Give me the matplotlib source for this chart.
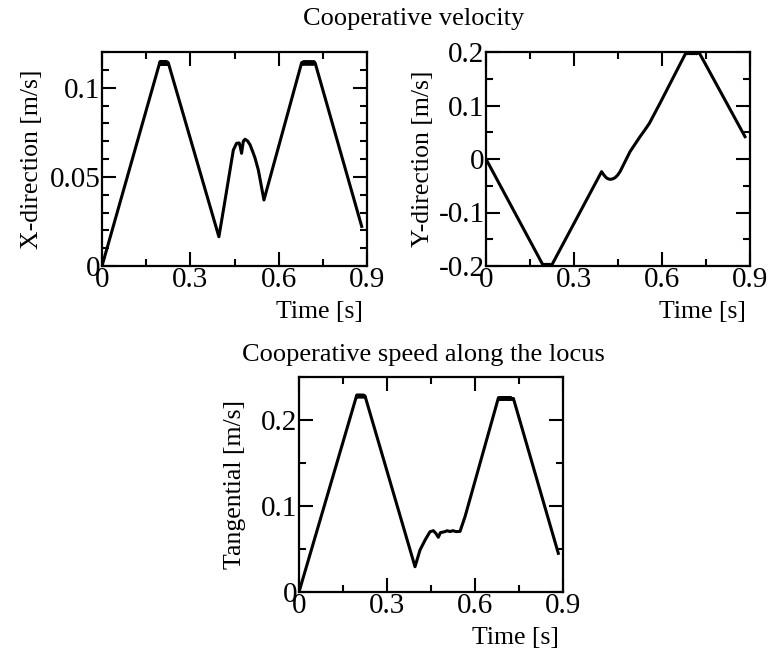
import matplotlib
matplotlib.use("Agg")
import matplotlib.pyplot as plt
from matplotlib.ticker import FixedLocator

plt.rcParams["font.family"] = ["Liberation Serif", "DejaVu Serif"]

# ---- data -------------------------------------------------------------
# X-direction cooperative velocity [m/s]
t_x = [0.0, 0.197, 0.199, 0.201, 0.203, 0.205, 0.207, 0.209, 0.211, 0.213,
       0.215, 0.217, 0.219, 0.221, 0.223, 0.225,
       0.397, 0.414, 0.435, 0.446, 0.457, 0.466, 0.470, 0.474, 0.480,
       0.486, 0.495, 0.503, 0.514, 0.520, 0.531, 0.550,
       0.678, 0.681, 0.684, 0.687, 0.690, 0.693, 0.696, 0.699, 0.702,
       0.705, 0.708, 0.711, 0.714, 0.717, 0.720, 0.724,
       0.882]
v_x = [0.0, 0.1146, 0.1132, 0.1146, 0.1131, 0.1146, 0.1132, 0.1146, 0.1131, 0.1146,
       0.1132, 0.1146, 0.1131, 0.1145, 0.1133, 0.1140,
       0.0164, 0.0330, 0.0540, 0.0650, 0.0688, 0.0690, 0.0665, 0.0632, 0.0700,
       0.0711, 0.0700, 0.0679, 0.0632, 0.0604, 0.0538, 0.0370,
       0.1140, 0.1131, 0.1146, 0.1131, 0.1146, 0.1131, 0.1146, 0.1131, 0.1146,
       0.1131, 0.1146, 0.1131, 0.1146, 0.1131, 0.1146, 0.1138,
       0.0222]

# Y-direction cooperative velocity [m/s]
t_y = [0.0, 0.195, 0.198, 0.201, 0.204, 0.207, 0.210, 0.213, 0.216, 0.219, 0.224,
       0.394, 0.402, 0.410, 0.416, 0.423, 0.430, 0.440, 0.449, 0.457,
       0.491, 0.525, 0.540, 0.557, 0.593,
       0.682, 0.686, 0.690, 0.694, 0.698, 0.702, 0.706, 0.710, 0.714,
       0.718, 0.722, 0.727,
       0.883]
v_y = [0.0, -0.1990, -0.1968, -0.1990, -0.1968, -0.1990, -0.1968, -0.1990, -0.1968,
       -0.1990, -0.1985,
       -0.0237, -0.0300, -0.0350, -0.0370, -0.0380, -0.0375, -0.0350, -0.0300, -0.0237,
       0.0137, 0.0417, 0.0530, 0.0667, 0.1040,
       0.1990, 0.1968, 0.1990, 0.1968, 0.1990, 0.1968, 0.1990, 0.1968, 0.1990,
       0.1968, 0.1990, 0.1985,
       0.0417]

# Tangential cooperative speed [m/s]
t_t = [0.0, 0.197, 0.199, 0.201, 0.203, 0.205, 0.207, 0.209, 0.211, 0.213,
       0.215, 0.217, 0.219, 0.221, 0.223, 0.225,
       0.3955, 0.4125, 0.430, 0.4466, 0.458, 0.467, 0.475, 0.482,
       0.4966, 0.505, 0.515, 0.525, 0.535, 0.549, 0.566,
       0.680, 0.683, 0.686, 0.689, 0.692, 0.695, 0.698, 0.701, 0.704,
       0.707, 0.710, 0.713, 0.716, 0.719, 0.722, 0.725, 0.731,
       0.884]
v_t = [0.0, 0.2290, 0.2268, 0.2290, 0.2267, 0.2290, 0.2268, 0.2290, 0.2267, 0.2290,
       0.2268, 0.2290, 0.2267, 0.2289, 0.2268, 0.2280,
       0.0294, 0.0488, 0.0605, 0.0701, 0.0713, 0.0680, 0.0636, 0.0690,
       0.0701, 0.0712, 0.0703, 0.0713, 0.0702, 0.0705, 0.0876,
       0.2260, 0.2239, 0.2262, 0.2239, 0.2262, 0.2239, 0.2262, 0.2239, 0.2262,
       0.2239, 0.2262, 0.2239, 0.2262, 0.2239, 0.2262, 0.2240, 0.2250,
       0.0450]

# ---- axis definitions ----------------------------------------------------
x_major = [0.0, 0.3, 0.6, 0.9]
x_major_labels = ["0", "0.3", "0.6", "0.9"]
x_minor = [0.15, 0.45, 0.75]

yx_major = [0.0, 0.05, 0.1]
yx_major_labels = ["0", "0.05", "0.1"]
yx_minor = [0.01, 0.02, 0.03, 0.04, 0.06, 0.07, 0.08, 0.09, 0.11, 0.12]

yy_major = [-0.2, -0.1, 0.0, 0.1, 0.2]
yy_major_labels = ["-0.2", "-0.1", "0", "0.1", "0.2"]
yy_minor = [-0.15, -0.05, 0.05, 0.15]

yt_major = [0.0, 0.1, 0.2]
yt_major_labels = ["0", "0.1", "0.2"]
yt_minor = [0.05, 0.15, 0.25]

W, H = 773, 653
fig = plt.figure(figsize=(W / 100, H / 100), dpi=100)


def px_axes(left, top, right, bottom):
    return fig.add_axes([left / W, 1 - bottom / H, (right - left) / W, (bottom - top) / H])


TICK_FS = 21
LABEL_FS = 18.5


def style(ax, ylim, ymaj, ymaj_lab, ymin, ylabel, ylab_x):
    ax.set_xlim(0, 0.9)
    ax.set_ylim(*ylim)
    ax.xaxis.set_major_locator(FixedLocator(x_major))
    ax.set_xticklabels(x_major_labels)
    ax.xaxis.set_minor_locator(FixedLocator(x_minor))
    ax.yaxis.set_major_locator(FixedLocator(ymaj))
    ax.set_yticklabels(ymaj_lab)
    ax.yaxis.set_minor_locator(FixedLocator(ymin))
    ax.tick_params(which="both", direction="in", top=True, right=True,
                   width=1.5, color="black")
    ax.tick_params(which="major", length=10)
    ax.tick_params(which="minor", length=5)
    ax.tick_params(axis="x", which="major", labelsize=TICK_FS, pad=1)
    ax.tick_params(axis="y", which="major", labelsize=TICK_FS, pad=1)
    for sp in ax.spines.values():
        sp.set_linewidth(1.6)
    ax.annotate("Time [s]", xy=(1, 0), xycoords="axes fraction",
                xytext=(-3, -33), textcoords="offset points",
                ha="right", va="center", fontsize=LABEL_FS)
    ax.text(ylab_x, 0.5, ylabel, rotation=90, transform=ax.transAxes,
            ha="center", va="center", fontsize=LABEL_FS)


LW = 2.2

ax1 = px_axes(102, 52, 367, 266)
ax1.plot(t_x, v_x, color="black", lw=LW, solid_joinstyle="round")
style(ax1, (0, 0.12), yx_major, yx_major_labels, yx_minor,
      "X-direction [m/s]", -70 / 265)

ax2 = px_axes(486, 52, 750, 266)
ax2.plot(t_y, v_y, color="black", lw=LW, solid_joinstyle="round")
style(ax2, (-0.2, 0.2), yy_major, yy_major_labels, yy_minor,
      "Y-direction [m/s]", -63 / 264)

ax3 = px_axes(299, 377, 563, 592)
ax3.plot(t_t, v_t, color="black", lw=LW, solid_joinstyle="round")
style(ax3, (0, 0.25), yt_major, yt_major_labels, yt_minor,
      "Tangential [m/s]", -64 / 264)

fig.text(414 / W, 1 - 19 / H, "Cooperative velocity",
         ha="center", va="center", fontsize=19)
fig.text(423 / W, 1 - 355 / H, "Cooperative speed along the locus",
         ha="center", va="center", fontsize=19)

fig.savefig("out.png", dpi=100)
